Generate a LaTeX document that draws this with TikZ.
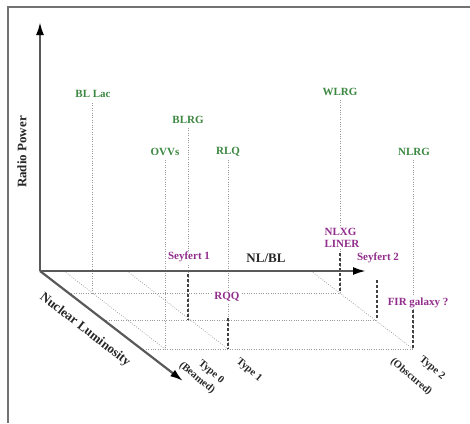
\documentclass[tikz,border=0pt]{standalone}
\usepackage{fontspec}
\setmainfont{Liberation Serif}
\usetikzlibrary{arrows.meta}
\definecolor{lblgreen}{RGB}{60,135,65}
\definecolor{lblpurple}{RGB}{145,45,140}
\begin{document}
\begin{tikzpicture}[x=1pt,y=-1pt,
  axisline/.style={line width=2.2pt,draw=black!65,-{Latex[length=13pt,width=8pt,black]}},
  dotline/.style={draw=black!40,line width=0.7pt,dash pattern=on 0.8pt off 1.6pt},
  dashline/.style={draw=black!75,line width=1.1pt,dash pattern=on 3pt off 2pt},
  glabel/.style={font=\bfseries\fontsize{11}{12}\selectfont,text=lblgreen,inner sep=1pt},
  plabel/.style={font=\bfseries\fontsize{11}{12}\selectfont,text=lblpurple,inner sep=1pt,fill=white},
  axlabel/.style={font=\bfseries\fontsize{13}{14}\selectfont,text=black!85,inner sep=0pt},
  typelabel/.style={font=\bfseries\fontsize{10.5}{12}\selectfont,text=black!85,inner sep=0pt,rotate=-40}]
\useasboundingbox (0,0) rectangle (470,423);
% frame
\draw[black!55,line width=1.2pt] (8,423) -- (8,7) -- (470,7);
% coordinates
\coordinate (O) at (40,271);
\coordinate (Ytop) at (40,22);
\coordinate (Xend) at (366,271);
\coordinate (Zend) at (183,381);
% floor grid
\coordinate (z1a) at (69,293);  \coordinate (z1b) at (340,293);
\coordinate (z2a) at (104,320); \coordinate (z2b) at (377,320);
\coordinate (z3a) at (141,349); \coordinate (z3b) at (413,349);
\coordinate (t0a) at (64,271);  \coordinate (t0b) at (165,349);
\coordinate (t1a) at (127,271); \coordinate (t1b) at (228,349);
\coordinate (t2a) at (311,271); \coordinate (t2b) at (413,349);
\draw[dotline] (z1a) -- (z1b);
\draw[dotline] (z2a) -- (z2b);
\draw[dotline] (z3a) -- (z3b);
\draw[dotline] (t0a) -- (t0b);
\draw[dotline] (t1a) -- (t1b);
\draw[dotline] (t2a) -- (t2b);
% vertical dotted lines
\coordinate (blA) at (92,103);  \coordinate (blB) at (92,293);
\coordinate (ovA) at (165,160); \coordinate (ovB) at (165,349);
\coordinate (brA) at (188,128); \coordinate (brB) at (188,320);
\coordinate (rlA) at (228,160); \coordinate (rlB) at (228,349);
\coordinate (wlA) at (340,100); \coordinate (wlB) at (340,293);
\coordinate (nlA) at (413,160); \coordinate (nlB) at (413,349);
\draw[dotline] (blA) -- (blB);
\draw[dotline] (ovA) -- (ovB);
\draw[dotline] (brA) -- (brB);
\draw[dotline] (rlA) -- (rlB);
\draw[dotline] (wlA) -- (wlB);
\draw[dotline] (nlA) -- (nlB);
% dashed segments
\coordinate (s1A) at (188,274); \coordinate (s1B) at (188,320);
\coordinate (rqA) at (228,318); \coordinate (rqB) at (228,349);
\coordinate (lnA) at (340,253); \coordinate (lnB) at (340,293);
\coordinate (s2A) at (377,280); \coordinate (s2B) at (377,320);
\coordinate (t2A) at (413,310); \coordinate (t2B) at (413,349);
\draw[dashline] (s1A) -- (s1B);
\draw[dashline] (rqA) -- (rqB);
\draw[dashline] (lnA) -- (lnB);
\draw[dashline] (s2A) -- (s2B);
\draw[dashline] (t2A) -- (t2B);
% axes
\draw[axisline] (O) -- (Ytop);
\draw[axisline] (O) -- (Xend);
\draw[axisline] (O) -- (Zend);
% axis labels
\node[axlabel,rotate=90] (rp) at (22,152) {Radio Power};
\node[axlabel] (nlbl) at (266,258) {NL/BL};
\node[axlabel,rotate=-38] (nuc) at (85,330) {Nuclear Luminosity};
% green labels
\node[glabel] (bllac) at (93,94) {BL Lac};
\node[glabel] (blrg) at (188,120) {BLRG};
\node[glabel] (ovv) at (165,152) {OVVs};
\node[glabel] (rlq) at (228,152) {RLQ};
\node[glabel] (wlrg) at (340,92) {WLRG};
\node[glabel] (nlrg) at (414,152) {NLRG};
% purple labels
\node[plabel] (sey1) at (189,257) {Seyfert 1};
\node[plabel] (rqq) at (227,297) {RQQ};
\node[plabel,align=left] (nlxg) at (342,238) {NLXG\\LINER};
\node[plabel] (sey2) at (378,258) {Seyfert 2};
\node[plabel] (fir) at (418,303) {FIR galaxy ?};
% type labels
\node[typelabel] (ty0) at (211,372) {Type 0};
\node[typelabel] (beam) at (197,378) {(Beamed)};
\node[typelabel] (ty1) at (249,370) {Type 1};
\node[typelabel] (ty2) at (432,368) {Type 2};
\node[typelabel] (obs) at (411,377) {(Obscured)};
\end{tikzpicture}
\end{document}
